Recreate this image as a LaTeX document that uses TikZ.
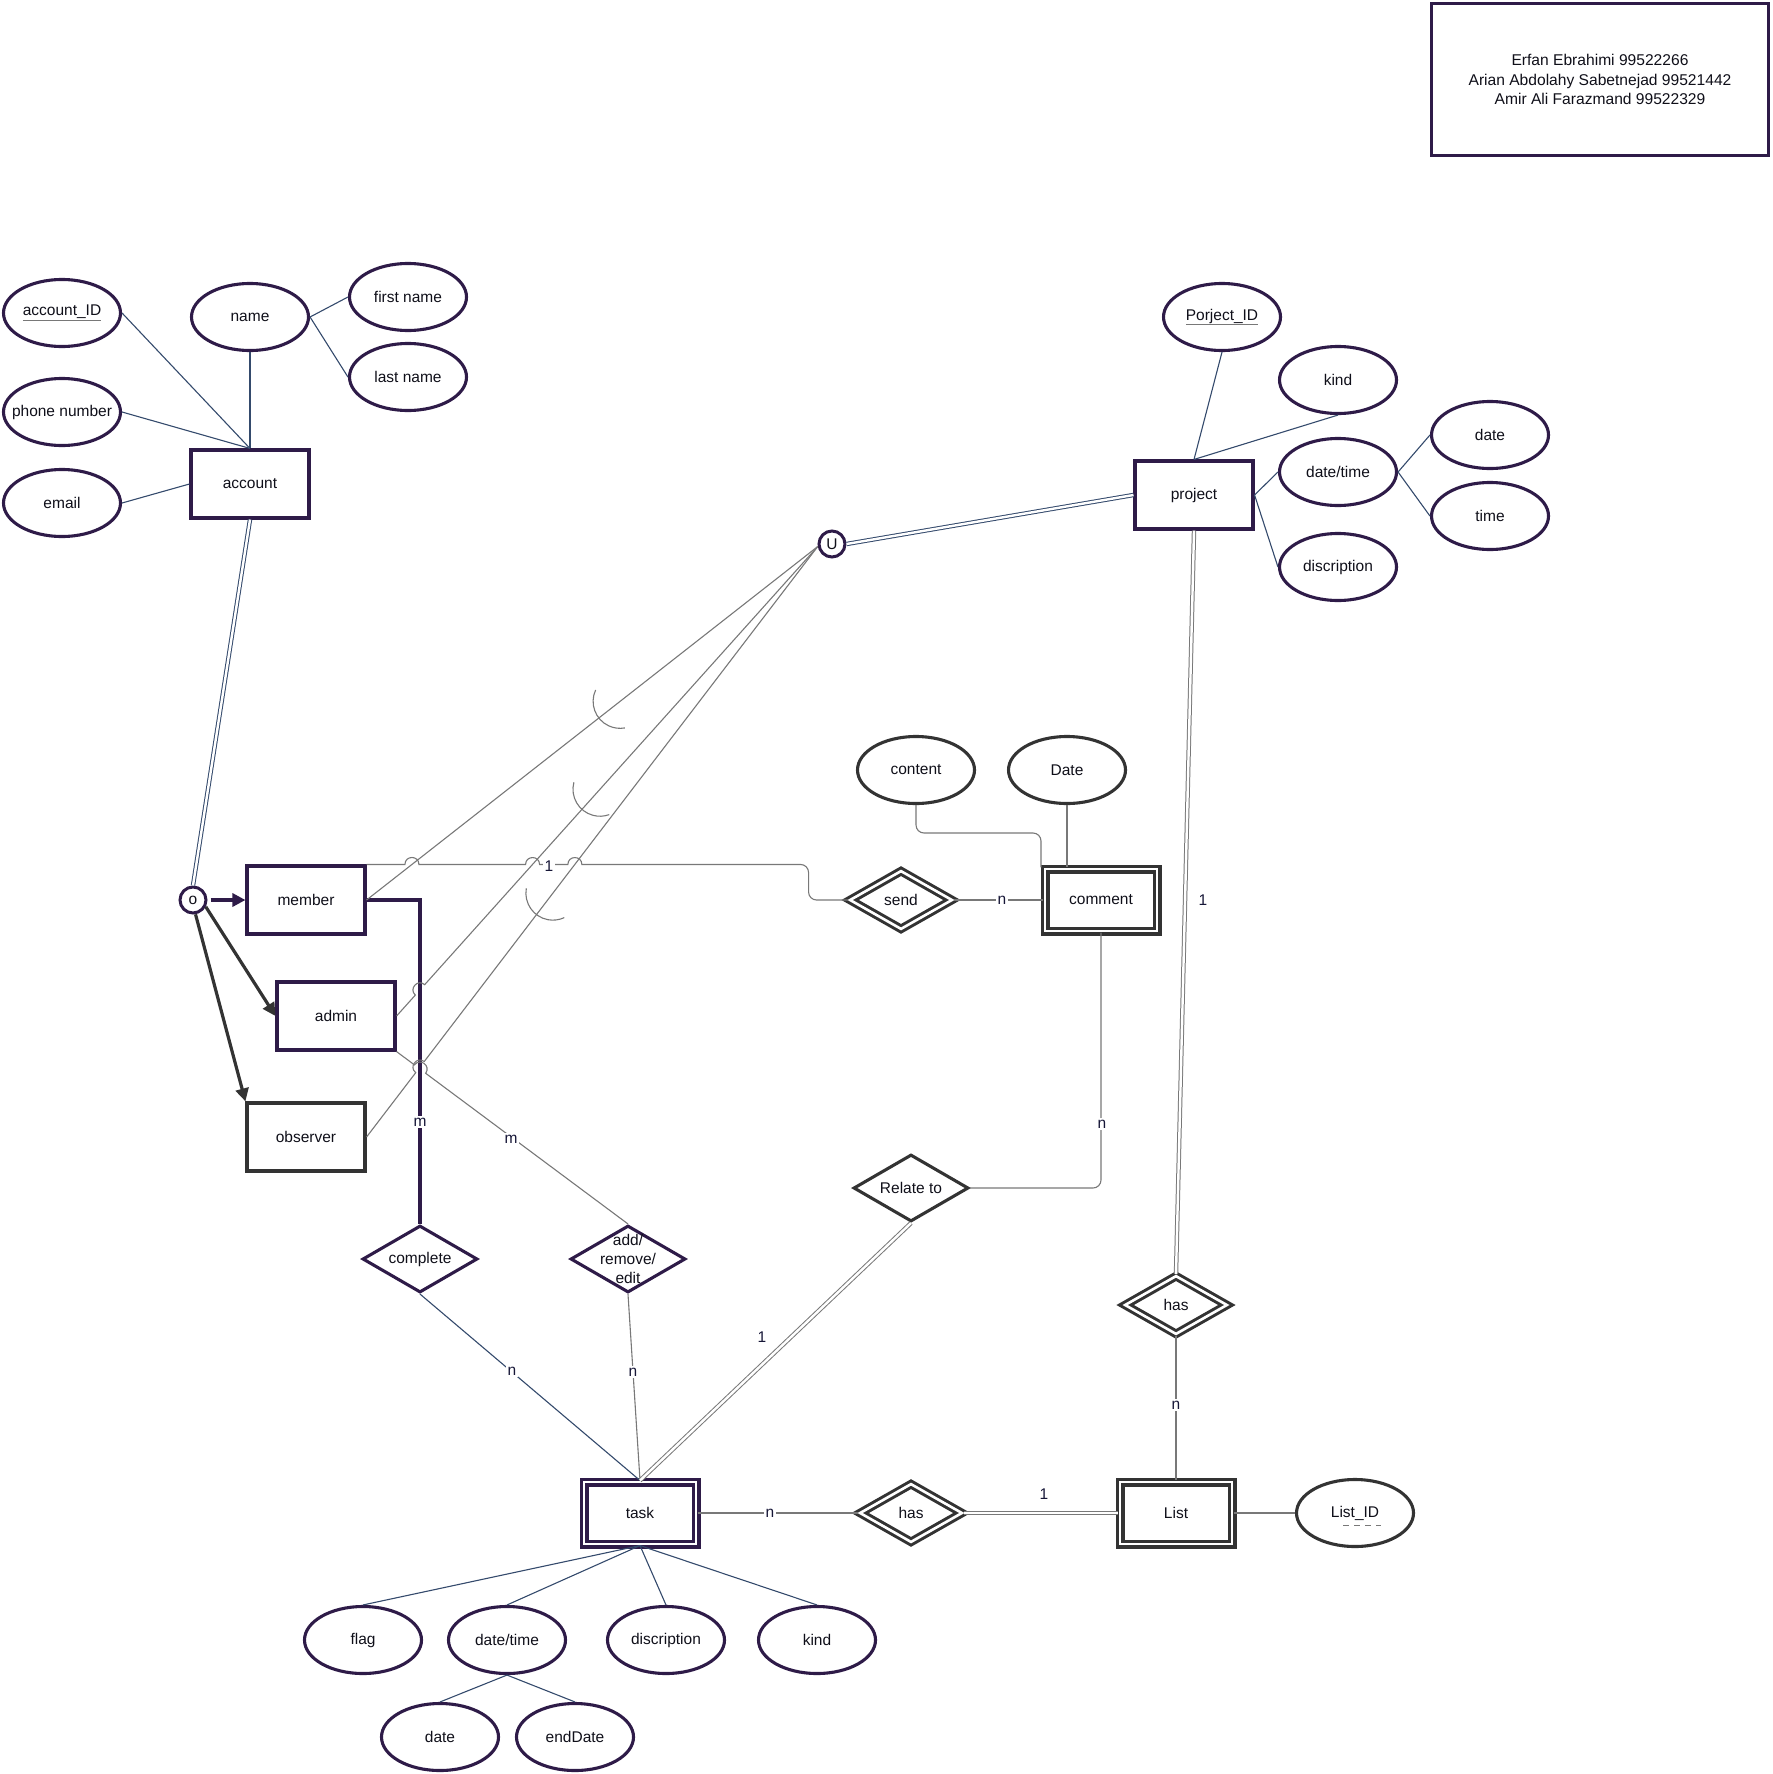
\documentclass[tikz,border=0pt]{standalone}
\usepackage{fontspec}
\setmainfont{Liberation Sans}
\usetikzlibrary{shapes.geometric,arrows.meta,calc}

\definecolor{purpleC}{RGB}{46,27,72}
\definecolor{grayC}{RGB}{51,51,51}
\definecolor{relC}{RGB}{120,120,120}
\definecolor{attC}{RGB}{52,74,108}
\definecolor{txtC}{RGB}{15,15,25}
\definecolor{lblC}{RGB}{22,22,55}
\definecolor{ulC}{RGB}{120,120,120}

\newcommand{\keyattr}[1]{\textcolor{ulC}{\underline{\textcolor{txtC}{#1}}}}

\tikzset{
  every node/.style={font=\fontsize{15.5}{18.6}\selectfont, text=txtC},
  every label/.style={inner sep=0pt, text=txtC},
  attr/.style={ellipse, draw=purpleC, line width=3.1pt, minimum width=117pt, minimum height=67pt, inner sep=0pt},
  attrg/.style={attr, draw=grayC},
  ent/.style={rectangle, draw=purpleC, line width=3.1pt, minimum width=118pt, minimum height=68pt, inner sep=0pt},
  entg/.style={ent, draw=grayC},
  went/.style={rectangle, draw=purpleC, line width=3.1pt, double=white, double distance=2.8pt, minimum width=112pt, minimum height=62pt, inner sep=0pt},
  wentg/.style={went, draw=grayC},
  relship/.style={diamond, draw=purpleC, line width=3.1pt, minimum width=115pt, minimum height=67pt, inner sep=0pt},
  relshipg/.style={relship, draw=grayC},
  wrel/.style={diamond, draw=grayC, line width=3pt, double=white, double distance=2.6pt, minimum width=103pt, minimum height=59pt, inner sep=0pt},
  junction/.style={circle, draw=purpleC, line width=3pt, minimum size=26pt, inner sep=0pt},
  att/.style={draw=attC, line width=1.1pt},
  rel/.style={draw=relC, line width=1.1pt},
  dblb/.style={draw=attC, line width=1pt, double=white, double distance=2.4pt},
  dblg/.style={draw=relC, line width=1pt, double=white, double distance=2.4pt},
  lbl/.style={fill=white, inner sep=1.5pt, text=lblC},
  card/.style={inner sep=0pt, text=lblC},
  hop/.style={bend left=90, looseness=1.7},
  isa/.style={-{Triangle[length=13pt,width=13pt]}, line width=3.2pt},
}

\begin{document}
\begin{tikzpicture}[x=1pt,y=-1pt]
\useasboundingbox (0,0) rectangle (1772,1774);

% credits box
\node[draw=purpleC, line width=3pt, minimum width=337pt, minimum height=152pt,
      align=center, font=\fontsize{15.6}{19.5}\selectfont] (credits) at (1600,79.5)
  {Erfan Ebrahimi 99522266\\Arian Abdolahy Sabetnejad 99521442\\Amir Ali Farazmand 99522329};

% ---- account and its attributes
\node[ent, label=center:account] (account) at (250,484) {};
\node[attr, label={center:\keyattr{account\_ID}}] (accid) at (62,313) {};
\node[attr, label=center:name] (name) at (250,317) {};
\node[attr, label=center:first name] (fname) at (408,297) {};
\node[attr, label=center:last name] (lname) at (408,377) {};
\node[attr, label=center:phone number] (phone) at (62,412) {};
\node[attr, label=center:email] (email) at (62,503) {};

\draw[att] (accid.east) -- (account.north);
\draw[att] (name.south) -- (account.north);
\draw[att] (phone.east) -- (account.north);
\draw[att] (email.east) -- (account.west);
\draw[att] (name.east) -- (fname.west);
\draw[att] (name.east) -- (lname.west);

% ---- project and its attributes
\node[ent, label=center:project] (project) at (1194,495) {};
\node[attr, label={center:\keyattr{Porject\_ID}}] (pid) at (1222,317) {};
\node[attr, label=center:kind] (pkind) at (1338,380) {};
\node[attr, label=center:date/time] (pdt) at (1338,472) {};
\node[attr, label=center:discription] (pdesc) at (1338,567) {};
\node[attr, label=center:date] (pdate) at (1490,435) {};
\node[attr, label=center:time] (ptime) at (1490,516) {};

\draw[att] (pid.south) -- (project.north);
\draw[att] (pkind.south) -- (project.north);
\draw[att] (project.east) -- (pdt.west);
\draw[att] (project.east) -- (pdesc.west);
\draw[att] (pdt.east) -- (pdate.west);
\draw[att] (pdt.east) -- (ptime.west);

% ---- specialisation of account
\node[junction, label=center:o] (o) at (193,900) {};
\node[ent, label=center:member] (member) at (306,900) {};
\node[ent, label=center:admin] (admin) at (336,1016) {};
\node[entg, label=center:observer] (observer) at (306,1137) {};

\draw[dblb] (account.south) -- (o.north);
\draw[isa, draw=purpleC, shorten <=3pt] (o.east) -- (member.west);
\draw[isa, draw=grayC] (o.-28) -- (admin.west);
\draw[isa, draw=grayC] (o.-80) -- (observer.north west);

% ---- union category
\node[junction, label=center:U] (U) at (832,544) {};
\coordinate (Uw) at (U.190);
\draw[dblb] (U.east) -- (project.west);

% ---- comment
\node[wentg, label=center:comment] (comment) at (1101,900) {};
\node[wrel, label=center:send] (send) at (901,900) {};
\node[attrg, label=center:content] (content) at (916,770) {};
\node[attrg, label=center:Date] (cdate) at (1067,770) {};
\coordinate (cbend) at (1041,833);
\draw[rel, rounded corners=8pt] (content.south) |- (cbend) -- (cbend |- comment.north);
\draw[rel] (cdate.south) -- (cdate.south |- comment.north);
\draw[rel] (send.east) -- (comment.west);
\node[lbl] (nsend) at (1002,900) {n};

% ---- task side relationships
\node[went, label=center:task] (task) at (640,1513) {};
\node[relship, label=center:complete] (complete) at (420,1259) {};
\node[relship, label={[align=center]center:add/\\remove/\\edit}] (arem) at (628,1259) {};
\node[relshipg, label=center:Relate to] (relate) at (911,1188) {};
\node[wrel, label=center:has] (hasT) at (911,1513) {};
\node[wrel, label=center:has] (hasL) at (1176,1305) {};
\node[wentg, label=center:List] (list) at (1176,1513) {};
\node[attrg] (listid) at (1355,1513) {};
\node (listidtxt) at (1355,1513) {List\_ID};
\draw[relC, line width=1pt, dash pattern=on 6pt off 5pt] (1343,1525) -- (1381,1525);

% task attributes
\node[attr, label=center:flag] (flag) at (363,1640) {};
\node[attr, label=center:date/time] (tdt) at (507,1640) {};
\node[attr, label=center:discription] (tdesc) at (666,1640) {};
\node[attr, label=center:kind] (tkind) at (817,1640) {};
\node[attr, label=center:date] (tdate) at (440,1737) {};
\node[attr, label=center:endDate] (tend) at (575,1737) {};
\draw[att] (flag.north) -- (task.south);
\draw[att] (tdt.north) -- (task.south);
\draw[att] (tdesc.north) -- (task.south);
\draw[att] (tkind.north) -- (task.south);
\draw[att] (tdt.south) -- (tdate.north);
\draw[att] (tdt.south) -- (tend.north);

% helper points for crossings
\coordinate (vtop) at (complete.north |- member.east);
\coordinate (hl) at (member.north east);
\coordinate (hc) at ($(member.north east)+(442,0)$);
\coordinate (j1) at (intersection of member.east--Uw and hl--hc);
\coordinate (j2) at (intersection of admin.east--Uw and hl--hc);
\coordinate (j3) at (intersection of observer.east--Uw and hl--hc);
\coordinate (k2) at (intersection of admin.east--Uw and vtop--complete.north);
\coordinate (k3) at (intersection of observer.east--Uw and vtop--complete.north);
\coordinate (k4) at (intersection of admin.south east--arem.north and vtop--complete.north);

% member -- complete (bold)
\draw[draw=purpleC, line width=3.2pt] (member.east) -| (complete.north);
\node[lbl] (mcomp) at (420,1122) {m};

% member/admin/observer -- U
\draw[rel] (member.east) -- (Uw);
\draw[rel] (admin.east) -- ($(k2)!7pt!(admin.east)$) to[hop] ($(k2)!7pt!(Uw)$) -- (Uw);
\draw[rel] (observer.east) -- ($(k3)!7pt!(observer.east)$) to[hop] ($(k3)!7pt!(Uw)$) -- (Uw);

% subset marks on the category lines
\draw[relC, line width=1.1pt] ($(member.east)!0.562!(Uw)$) ++(205:27) arc[start angle=205, end angle=80, radius=27];
\draw[relC, line width=1.1pt] ($(admin.east)!0.483!(Uw)$) ++(195:27) arc[start angle=195, end angle=70, radius=27];
\draw[relC, line width=1.1pt] ($(observer.east)!0.413!(Uw)$) ++(190:27) arc[start angle=190, end angle=65, radius=27];

% member -- send
\draw[rel] (member.north east) -- ($(j1)!7pt!(hl)$) to[hop] ($(j1)!7pt!(hc)$)
  -- ($(j2)!7pt!(hl)$) to[hop] ($(j2)!7pt!(hc)$)
  -- ($(j3)!7pt!(hl)$) to[hop] ($(j3)!7pt!(hc)$)
  [rounded corners=8pt] -- (hc) |- (send.west);
\node[lbl] (onesend) at (549,866) {1};

% admin -- add/remove/edit
\draw[rel] (admin.south east) -- ($(k4)!7pt!(admin.south east)$) to[hop] ($(k4)!7pt!(arem.north)$) -- (arem.north);
\node[lbl] (marem) at (511,1139) {m};

% relationships into task
\draw[att] (complete.south) -- (task.north);
\node[lbl] (ncomp) at (512,1371) {n};
\draw[rel] (arem.south) -- (task.north);
\node[lbl] (narem) at (633,1372) {n};
\draw[dblg] (relate.south) -- (task.north);
\node[card] (onerel) at (762,1337) {1};

% comment -- Relate to
\draw[rel, rounded corners=8pt] (comment.south) |- (relate.east);
\node[lbl] (nrel) at (1102,1124) {n};

% task -- has -- List
\draw[rel] (task.east) -- (hasT.west);
\node[lbl] (ntask) at (770,1513) {n};
\draw[dblg] (hasT.east) -- (list.west);
\node[card] (onelist) at (1044,1494) {1};

% project -- has -- List
\draw[dblg] (project.south) -- (hasL.north);
\node[card] (oneproj) at (1203,900) {1};
\draw[rel] (hasL.south) -- (list.north);
\node[lbl] (nlist) at (1176,1405) {n};

\draw[rel] (list.east) -- (listid.west);
\end{tikzpicture}
\end{document}
